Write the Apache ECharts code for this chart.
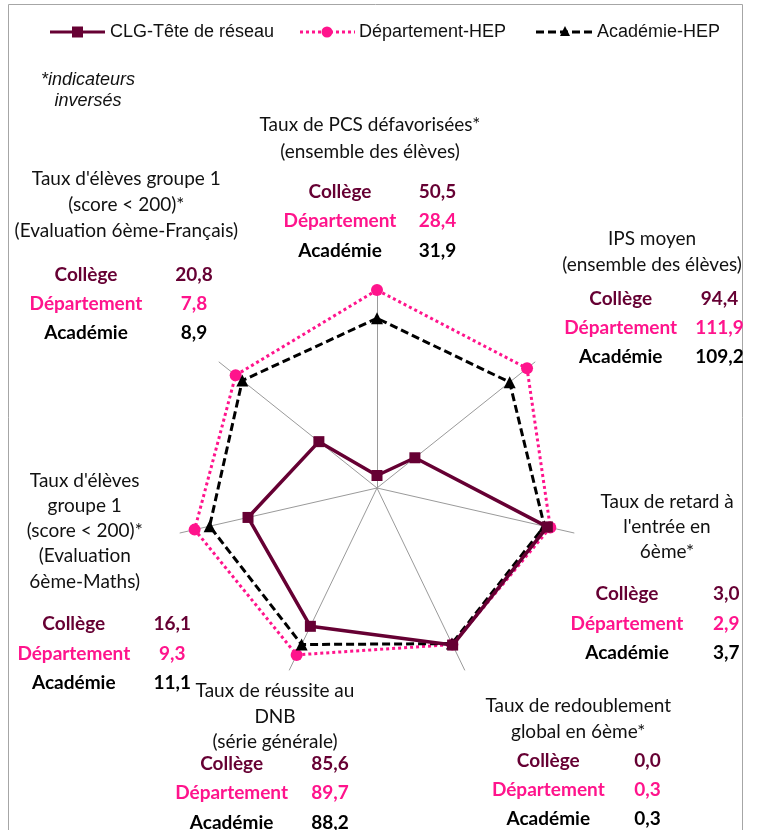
<!DOCTYPE html>
<html>
<head>
<meta charset="utf-8">
<script src="https://cdn.jsdelivr.net/npm/echarts@6/dist/echarts.min.js"></script>
<style>
html,body{margin:0;padding:0;background:#fff;}
#chart{width:758px;height:830px;}
</style>
</head>
<body>
<div id="chart"></div>
<script>
// ---- Data ----
const indicators = [
  'Taux de PCS défavorisées*',
  "Taux d'élèves groupe 1 (Français)*",
  "Taux d'élèves groupe 1 (Maths)*",
  'Taux de réussite au DNB',
  'Taux de redoublement global en 6ème*',
  "Taux de retard à l'entrée en 6ème*",
  'IPS moyen'
];
const indicatorTitles = [
  ['Taux de PCS défavorisées*', '(ensemble des élèves)'],
  ["Taux d'élèves groupe 1", '(score < 200)*', '(Evaluation 6ème-Français)'],
  ["Taux d'élèves", 'groupe 1', '(score < 200)*', '(Evaluation', '6ème-Maths)'],
  ['Taux de réussite au', 'DNB', '(série générale)'],
  ['Taux de redoublement', 'global en 6ème*'],
  ['Taux de retard à', "l'entrée en", '6ème*'],
  ['IPS moyen', '(ensemble des élèves)']
];
const seriesNames = ['CLG-Tête de réseau', 'Département-HEP', 'Académie-HEP'];
const rowLabels = ['Collège', 'Département', 'Académie'];
// plotted (normalised) scores, 0-100
const collegeScore     = [6.2, 36.8, 65.5, 76.0, 86.3, 86.5, 24.0];
const departementScore = [98.0, 89.5, 92.6, 91.7, 86.0, 88.0, 95.0];
const academieScore    = [84.0, 85.3, 85.0, 86.0, 85.5, 85.0, 84.0];
// raw indicator values shown in the text boxes
const collegeValue     = [50.5, 20.8, 16.1, 85.6, 0.0, 3.0, 94.4];
const departementValue = [28.4, 7.8, 9.3, 89.7, 0.3, 2.9, 111.9];
const academieValue    = [31.9, 8.9, 11.1, 88.2, 0.3, 3.7, 109.2];

// ---- Layout / style ----
const C_COL = '#660033', C_DEP = '#FF148C', C_ACA = '#000000';
const rowColors = [C_COL, C_DEP, C_ACA];
const FONT = 'Lato, "Open Sans", sans-serif';
const FS = 19;
const blocks = [
  {tx: 370, ty: [125, 151.7], lx: 340, vx: 437.5, ry: [191.7, 220.7, 250.7]},
  {tx: 126.3, ty: [179, 205, 230.7], lx: 86, vx: 194, ry: [275, 304, 333.3]},
  {tx: 84.7, ty: [480.7, 506, 530.7, 556, 581.7], lx: 73.8, vx: 172.2, ry: [624, 654, 683.3]},
  {tx: 275, ty: [690.7, 716.7, 741.7], lx: 231.6, vx: 330, ry: [764, 792.7, 822.7]},
  {tx: 578.2, ty: [706, 732.3], lx: 548.3, vx: 647.5, ry: [761, 790, 819.3]},
  {tx: 667, ty: [501.7, 527.3, 551.7], lx: 627, vx: 726.3, ry: [594, 624, 652.7]},
  {tx: 652, ty: [239, 265], lx: 620.7, vx: 719.5, ry: [299, 328.3, 356.7]}
];
const fmt = v => v.toFixed(1).replace('.', ',');
const valueSets = [collegeValue, departementValue, academieValue];

const graphics = [];
function txt(x, y, s, font, fill, align) {
  graphics.push({type: 'text', z: 10, style: {x: x, y: y, text: s, font: font, fill: fill,
    textAlign: align || 'center', textVerticalAlign: 'middle'}});
}
blocks.forEach((b, i) => {
  indicatorTitles[i].forEach((line, k) => txt(b.tx, b.ty[k], line, FS + 'px ' + FONT, '#111'));
  rowLabels.forEach((lab, r) => {
    txt(b.lx, b.ry[r], lab, 'bold ' + FS + 'px ' + FONT, rowColors[r]);
    txt(b.vx, b.ry[r], fmt(valueSets[r][i]), 'bold ' + FS + 'px ' + FONT, rowColors[r]);
  });
});
// frame
graphics.push({type: 'polyline', z: 1, shape: {points: [[8.5, 830], [8.5, 4.5], [742.5, 4.5], [742.5, 830]]},
  style: {stroke: '#a6a6a6', lineWidth: 1, fill: null}});
// legend
const LF = '18px "Liberation Sans", Arial, sans-serif';
const legY = 32;
graphics.push({type: 'line', z: 10, shape: {x1: 50, y1: legY, x2: 105, y2: legY}, style: {stroke: C_COL, lineWidth: 3}});
graphics.push({type: 'rect', z: 11, shape: {x: 72, y: legY - 5.5, width: 11, height: 11}, style: {fill: C_COL}});
txt(110, legY, seriesNames[0], LF, '#111', 'left');
graphics.push({type: 'line', z: 10, shape: {x1: 300, y1: legY, x2: 355, y2: legY}, style: {stroke: C_DEP, lineWidth: 3, lineDash: [3, 3]}});
graphics.push({type: 'circle', z: 11, shape: {cx: 327, cy: legY, r: 5.5}, style: {fill: C_DEP}});
txt(359, legY, seriesNames[1], LF, '#111', 'left');
graphics.push({type: 'line', z: 10, shape: {x1: 536, y1: legY, x2: 594, y2: legY}, style: {stroke: C_ACA, lineWidth: 3, lineDash: [8, 4]}});
graphics.push({type: 'polygon', z: 11, shape: {points: [[565, legY - 6], [560, legY + 4], [570, legY + 4]]}, style: {fill: C_ACA}});
txt(597, legY, seriesNames[2], LF, '#111', 'left');
// note
txt(88, 80, '*indicateurs', 'italic 18px "Liberation Sans", Arial, sans-serif', '#111');
txt(88, 101, 'inversés', 'italic 18px "Liberation Sans", Arial, sans-serif', '#111');

const chart = echarts.init(document.getElementById('chart'), null, {renderer: 'canvas'});
chart.setOption({
  animation: false,
  backgroundColor: '#fff',
  radar: {
    center: [377, 488],
    radius: 202,
    startAngle: 90,
    splitNumber: 1,
    shape: 'polygon',
    axisName: {show: false},
    splitLine: {show: false},
    splitArea: {show: false},
    axisTick: {show: false},
    axisLabel: {show: false},
    axisLine: {lineStyle: {color: '#9a9a9a', width: 1}},
    indicator: indicators.map(n => ({name: n, min: 0, max: 100}))
  },
  series: [
    {type: 'radar', name: seriesNames[2], z: 3, symbol: 'triangle', symbolSize: 12,
     lineStyle: {color: C_ACA, width: 3, type: [8, 4]}, itemStyle: {color: C_ACA},
     data: [{value: academieScore, name: seriesNames[2]}]},
    {type: 'radar', name: seriesNames[1], z: 2, symbol: 'circle', symbolSize: 12,
     lineStyle: {color: C_DEP, width: 3, type: [3, 3]}, itemStyle: {color: C_DEP},
     data: [{value: departementScore, name: seriesNames[1]}]},
    {type: 'radar', name: seriesNames[0], z: 4, symbol: 'rect', symbolSize: 11,
     lineStyle: {color: C_COL, width: 3.5, type: 'solid'}, itemStyle: {color: C_COL},
     data: [{value: collegeScore, name: seriesNames[0]}]}
  ],
  graphic: graphics
});
</script>
</body>
</html>
